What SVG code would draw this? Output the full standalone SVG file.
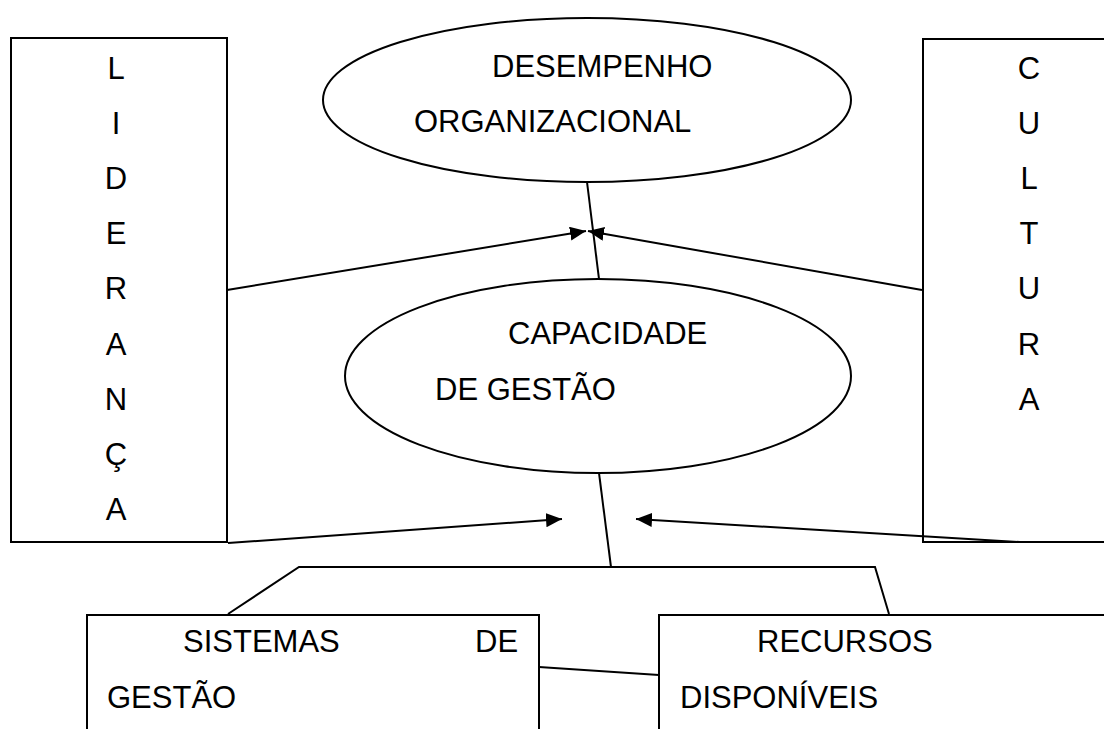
<svg xmlns="http://www.w3.org/2000/svg" width="1104" height="729" viewBox="0 0 1104 729">
<style>
.shape{fill:#fff;stroke:#000;stroke-width:2}
.ln{fill:none;stroke:#000;stroke-width:2}
.t{font-family:"Liberation Sans",Arial,sans-serif;font-size:31px;fill:#000}
.v{text-anchor:middle}
</style>
<defs>
<marker id="arr" markerUnits="userSpaceOnUse" markerWidth="18" markerHeight="16" refX="16" refY="7" orient="auto">
<path d="M0,0 L16,7 L0,14 z" fill="#000"/>
</marker>
</defs>
<rect width="1104" height="729" fill="#fff"/>
<g id="connectors">
<line class="ln" x1="587" y1="182" x2="599" y2="279"/>
<line class="ln" x1="599" y1="473" x2="611" y2="567"/>
<polyline class="ln" points="228,614 299,567 875,567 889,614"/>
<line class="ln" x1="539" y1="667" x2="659" y2="675"/>
<line class="ln" x1="227" y1="290" x2="586" y2="231" marker-end="url(#arr)"/>
<line class="ln" x1="922" y1="290" x2="588" y2="231" marker-end="url(#arr)"/>
<line class="ln" x1="228" y1="543" x2="562" y2="519" marker-end="url(#arr)"/>
<line class="ln" x1="1020" y1="542" x2="636" y2="519" marker-end="url(#arr)"/>
</g>
<g id="lideranca">
<rect class="shape" x="11" y="38" width="216" height="504" fill="none" style="fill:none"/>
<text class="t v" x="116" y="79">L</text>
<text class="t v" x="116" y="134">I</text>
<text class="t v" x="116" y="189">D</text>
<text class="t v" x="116" y="244">E</text>
<text class="t v" x="116" y="299">R</text>
<text class="t v" x="116" y="355">A</text>
<text class="t v" x="116" y="410">N</text>
<text class="t v" x="116" y="465">Ç</text>
<text class="t v" x="116" y="520">A</text>
</g>
<g id="cultura">
<rect class="shape" x="923" y="39" width="200" height="503" style="fill:none"/>
<text class="t v" x="1029" y="79">C</text>
<text class="t v" x="1029" y="134">U</text>
<text class="t v" x="1029" y="189">L</text>
<text class="t v" x="1029" y="244">T</text>
<text class="t v" x="1029" y="299">U</text>
<text class="t v" x="1029" y="355">R</text>
<text class="t v" x="1029" y="410">A</text>
</g>
<g id="desempenho">
<ellipse class="shape" cx="587" cy="100" rx="264" ry="82" style="fill:none"/>
<text class="t" x="492" y="77">DESEMPENHO</text>
<text class="t" x="414" y="132">ORGANIZACIONAL</text>
</g>
<g id="capacidade">
<ellipse class="shape" cx="598" cy="376" rx="253" ry="97" style="fill:none"/>
<text class="t" x="508" y="344">CAPACIDADE</text>
<text class="t" x="435" y="400">DE GESTÃO</text>
</g>
<g id="sistemas">
<rect class="shape" x="87" y="615" width="452" height="130"/>
<text class="t" x="183" y="652">SISTEMAS</text>
<text class="t" x="475" y="652">DE</text>
<text class="t" x="107" y="708">GESTÃO</text>
</g>
<g id="recursos">
<rect class="shape" x="659" y="615" width="460" height="130"/>
<text class="t" x="757" y="652">RECURSOS</text>
<text class="t" x="680" y="708">DISPONÍVEIS</text>
</g>
</svg>
